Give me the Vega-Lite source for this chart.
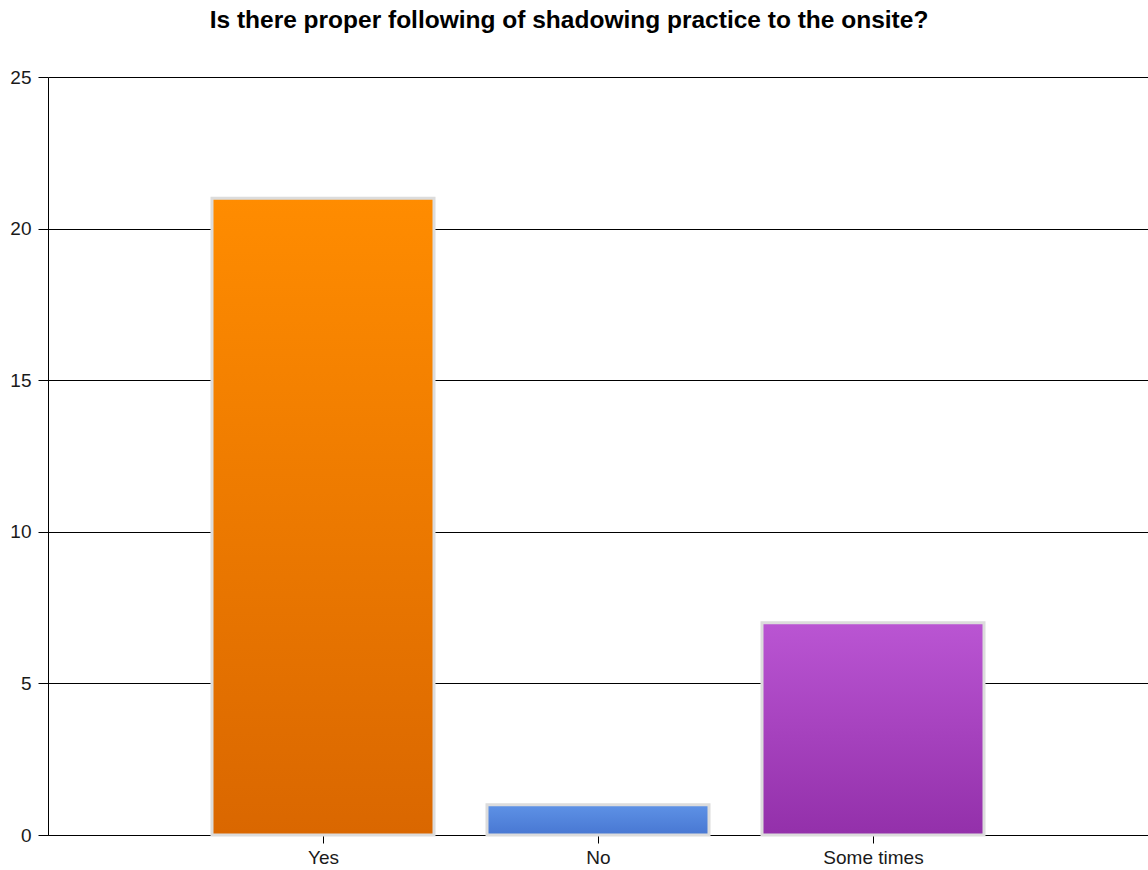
{
  "$schema": "https://vega.github.io/schema/vega-lite/v6.json",
  "width": 1100,
  "height": 758,
  "autosize": {"type": "none"},
  "padding": {"left": 48, "top": 77, "right": 0, "bottom": 35},
  "background": "white",
  "title": {
    "text": "Is there proper following of shadowing practice to the onsite?",
    "font": "Liberation Sans",
    "fontSize": 24.5,
    "fontWeight": "bold",
    "color": "#000000",
    "anchor": "middle",
    "dx": -29,
    "offset": 35
  },
  "config": {
    "view": {"stroke": null},
    "axis": {
      "labelFont": "Liberation Sans",
      "labelFontSize": 19,
      "labelColor": "#1a1a1a",
      "domainColor": "#000000",
      "tickColor": "#000000",
      "gridColor": "#000000",
      "gridOpacity": 1,
      "domainWidth": 1,
      "tickWidth": 1
    }
  },
  "data": {
    "values": [
      {"answer": "Yes", "count": 21},
      {"answer": "No", "count": 1},
      {"answer": "Some times", "count": 7}
    ]
  },
  "encoding": {
    "x": {
      "field": "answer",
      "type": "nominal",
      "sort": ["Yes", "No", "Some times"],
      "scale": {"type": "point", "padding": 1},
      "axis": {"title": null, "labelAngle": 0, "tickSize": 8, "labelPadding": 5, "grid": false}
    },
    "y": {
      "field": "count",
      "type": "quantitative",
      "scale": {"domain": [0, 25]},
      "axis": {"title": null, "values": [0, 5, 10, 15, 20, 25], "grid": true, "tickSize": 10, "labelPadding": 7}
    }
  },
  "layer": [
    {
      "transform": [{"filter": "datum.answer === 'Yes'"}],
      "mark": {
        "type": "bar",
        "size": 222,
        "stroke": "#DCDCDC",
        "strokeWidth": 3,
        "color": {
          "gradient": "linear", "x1": 0, "y1": 0, "x2": 0, "y2": 1,
          "stops": [{"offset": 0, "color": "#FF8C00"}, {"offset": 1, "color": "#DA6700"}]
        }
      }
    },
    {
      "transform": [{"filter": "datum.answer === 'No'"}],
      "mark": {
        "type": "bar",
        "size": 222,
        "stroke": "#DCDCDC",
        "strokeWidth": 3,
        "color": {
          "gradient": "linear", "x1": 0, "y1": 0, "x2": 0, "y2": 1,
          "stops": [{"offset": 0, "color": "#5E92E6"}, {"offset": 1, "color": "#4877D2"}]
        }
      }
    },
    {
      "transform": [{"filter": "datum.answer === 'Some times'"}],
      "mark": {
        "type": "bar",
        "size": 222,
        "stroke": "#DCDCDC",
        "strokeWidth": 3,
        "color": {
          "gradient": "linear", "x1": 0, "y1": 0, "x2": 0, "y2": 1,
          "stops": [{"offset": 0, "color": "#BA55D3"}, {"offset": 1, "color": "#9330AA"}]
        }
      }
    }
  ]
}
